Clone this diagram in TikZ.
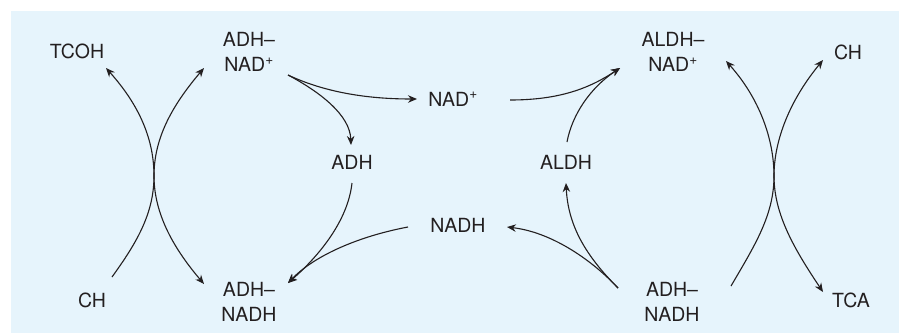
\documentclass[tikz,border=0pt]{standalone}
\usepackage{fontspec}
\setmainfont{TeX Gyre Heros}
\usetikzlibrary{arrows.meta}
\definecolor{panelblue}{HTML}{E6F4FC}
\definecolor{ink}{HTML}{231F20}
\begin{document}
\begin{tikzpicture}[x=1pt,y=-1pt,
  lbl/.style={text=ink,font=\fontsize{19.5}{25}\selectfont,inner sep=0pt,align=center},
  flow/.style={draw=ink,line width=1.1pt,-{Stealth[length=9pt,width=7.5pt]}},
  both/.style={draw=ink,line width=1.1pt,{Stealth[length=9pt,width=7.5pt]}-{Stealth[length=9pt,width=7.5pt]}},
  plain/.style={draw=ink,line width=1.1pt}]
\useasboundingbox (0,0) rectangle (899,333);
\fill[panelblue] (11,11) rectangle (899,333);

% species
\node[lbl] (tcoh)   at (77,51)   {TCOH};
\node[lbl] (adhnadp) at (249,52) {ADH–\\NAD\textsuperscript{+}};
\node[lbl] (nadp)   at (453,99)  {NAD\textsuperscript{+}};
\node[lbl] (adh)    at (352,162) {ADH};
\node[lbl] (aldh)   at (566,162) {ALDH};
\node[lbl] (nadh)   at (458,225) {NADH};
\node[lbl] (aldhnadp) at (673,52) {ALDH–\\NAD\textsuperscript{+}};
\node[lbl] (chR)    at (848,52)  {CH};
\node[lbl] (chL)    at (92,300)  {CH};
\node[lbl] (adhnadhL) at (249,302) {ADH–\\NADH};
\node[lbl] (adhnadhR) at (672,302) {ADH–\\NADH};
\node[lbl] (tca)    at (851,300) {TCA};

% connector ends
\coordinate (xL) at (154,176);
\coordinate (xR) at (774,176);
\coordinate (chLout) at (112,277);
\coordinate (tcohIn) at (106,68);
\coordinate (adhnadpIn) at (204,68);
\coordinate (adhnadpOut) at (288,75);
\coordinate (adhnadhLIn) at (204,284);
\coordinate (adhnadhLTop) at (288,283);
\coordinate (nadpIn) at (417,99);
\coordinate (nadpOut) at (510,100);
\coordinate (adhIn) at (351,145);
\coordinate (adhOut) at (352,183);
\coordinate (nadhOut) at (408,227);
\coordinate (nadhIn) at (507,227);
\coordinate (aldhOut) at (567,142);
\coordinate (aldhIn) at (566,183);
\coordinate (aldhnadpIn) at (620,68);
\coordinate (aldhnadpTop) at (726,61);
\coordinate (adhnadhROut) at (618,288);
\coordinate (adhnadhRBot) at (731,286);
\coordinate (chRIn) at (823,60);
\coordinate (tcaIn) at (823,292);

% left crossing: CH -> TCOH and ADH-NADH / ADH-NAD+
\draw[flow] (chLout) .. controls (135,245) and (154,215) .. (xL)
  .. controls (154,140) and (140,106) .. (tcohIn);
\draw[both] (adhnadhLIn) .. controls (175,250) and (154,215) .. (xL)
  .. controls (154,140) and (170,108) .. (adhnadpIn);

% right crossing: ADH-NADH -> ALDH-NAD+ and CH / TCA
\draw[flow] (adhnadhRBot) .. controls (755,245) and (774,215) .. (xR)
  .. controls (774,140) and (760,99) .. (aldhnadpTop);
\draw[both] (tcaIn) .. controls (795,250) and (774,215) .. (xR)
  .. controls (774,140) and (790,100) .. (chRIn);

% cofactor cycle
\draw[flow] (adhnadpOut) .. controls (320,90) and (360,99) .. (nadpIn);
\draw[flow] (adhnadpOut) .. controls (320,92) and (350,115) .. (adhIn);
\draw[flow] (nadpOut) .. controls (560,100) and (590,88) .. (aldhnadpIn);
\draw[flow] (aldhOut) .. controls (572,115) and (590,88) .. (aldhnadpIn);
\draw[flow] (adhOut) .. controls (348,220) and (320,255) .. (adhnadhLTop);
\draw[flow] (nadhOut) .. controls (360,236) and (315,255) .. (adhnadhLTop);
\draw[flow] (adhnadhROut) .. controls (590,258) and (550,232) .. (nadhIn);
\draw[flow] (adhnadhROut) .. controls (585,255) and (568,225) .. (aldhIn);
\end{tikzpicture}
\end{document}
